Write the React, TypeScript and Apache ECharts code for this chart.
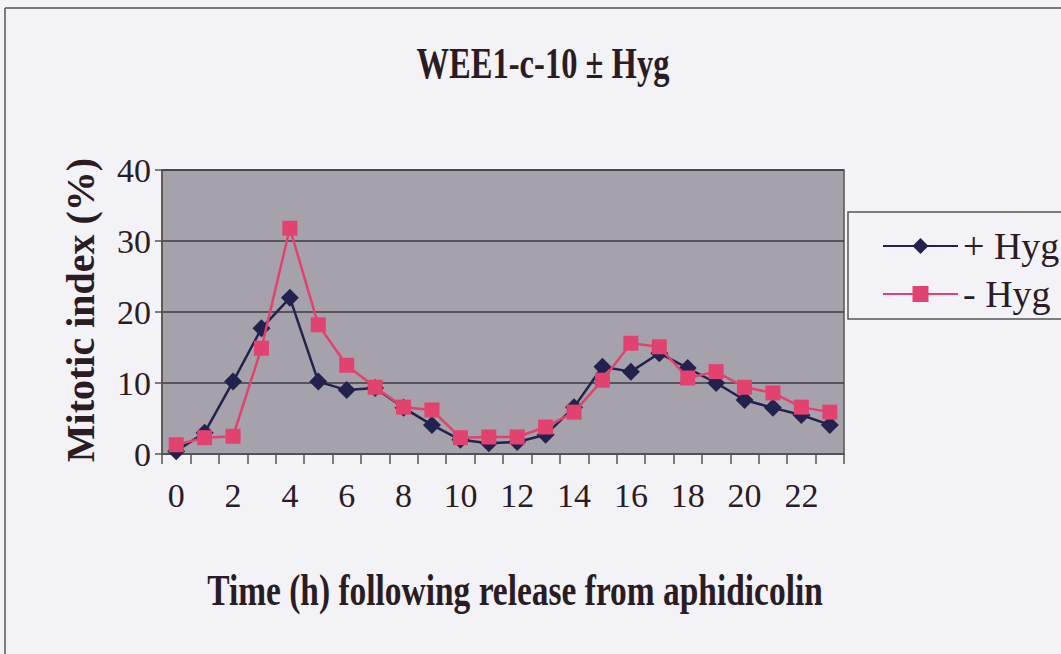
import React, { useEffect, useRef } from "react";
import * as echarts from "echarts";

// Time points (h) after release from aphidicolin
const hours: string[] = Array.from({ length: 24 }, (_, i) => String(i));

// Mitotic index (%) with hygromycin
const plusHyg: number[] = [
  0.4, 3.0, 10.2, 17.7, 22.0, 10.2, 9.0, 9.3, 6.5, 4.1, 2.0, 1.5,
  1.7, 2.7, 6.6, 12.3, 11.6, 14.2, 12.1, 10.0, 7.6, 6.5, 5.5, 4.1,
];

// Mitotic index (%) without hygromycin
const minusHyg: number[] = [
  1.3, 2.3, 2.5, 14.9, 31.8, 18.2, 12.5, 9.4, 6.6, 6.2, 2.3, 2.4,
  2.4, 3.8, 5.9, 10.4, 15.6, 15.1, 10.7, 11.6, 9.4, 8.6, 6.6, 5.9,
];

const seriesNames = ["+ Hyg", "- Hyg"];
const yTicks = { min: 0, max: 40, interval: 10 };

const SERIF = "'Liberation Serif', 'Times New Roman', serif";
const NAVY = "#23224e";
const PINK = "#e2426f";
const INK = "#2a1c22";

export default function App() {
  const ref = useRef<HTMLDivElement>(null);

  useEffect(() => {
    if (!ref.current) return;
    const chart = echarts.init(ref.current, null, { renderer: "svg" });
    chart.setOption({
      animation: false,
      backgroundColor: "#f3f2f7",
      grid: { left: 162, top: 170, width: 682, height: 284, show: true, backgroundColor: "#a6a2ab", borderColor: "#555", borderWidth: 1.5 },
      xAxis: {
        type: "category",
        data: hours,
        boundaryGap: true,
        axisLine: { lineStyle: { color: "#555", width: 1.5 } },
        axisTick: { show: true, interval: 0, length: 10, lineStyle: { color: "#555", width: 1.5 } },
        axisLabel: { interval: 1, margin: 24, fontSize: 34, fontFamily: SERIF, color: INK },
        splitLine: { show: false },
      },
      yAxis: {
        type: "value",
        min: yTicks.min,
        max: yTicks.max,
        interval: yTicks.interval,
        axisLine: { show: true, lineStyle: { color: "#555", width: 1.5 } },
        axisTick: { show: true, length: 7, lineStyle: { color: "#555", width: 1.5 } },
        axisLabel: { margin: 11, fontSize: 34, fontFamily: SERIF, color: INK },
        splitLine: { lineStyle: { color: "#3e3a44", width: 1.5 } },
      },
      legend: {
        orient: "vertical",
        left: 848,
        top: 212,
        data: seriesNames,
        itemWidth: 75,
        itemHeight: 20,
        itemGap: 10,
        padding: [15, 40, 6, 34],
        borderColor: "#555",
        borderWidth: 1.5,
        backgroundColor: "#f3f2f7",
        textStyle: { fontSize: 38, lineHeight: 36, fontFamily: SERIF, color: INK },
      },
      series: [
        {
          name: seriesNames[0],
          type: "line",
          data: plusHyg,
          symbol: "diamond",
          symbolSize: 18,
          color: NAVY,
          lineStyle: { color: NAVY, width: 2.5 },
          itemStyle: { color: NAVY },
          z: 2,
        },
        {
          name: seriesNames[1],
          type: "line",
          data: minusHyg,
          symbol: "rect",
          symbolSize: 15,
          color: PINK,
          lineStyle: { color: PINK, width: 2.5 },
          itemStyle: { color: PINK },
          z: 3,
        },
      ],
      graphic: [
        { type: "line", shape: { x1: 5, y1: 8, x2: 1061, y2: 8 }, style: { stroke: "#555", lineWidth: 1.5 } },
        { type: "line", shape: { x1: 5, y1: 8, x2: 5, y2: 654 }, style: { stroke: "#555", lineWidth: 1.5 } },
        {
          type: "text",
          x: 543,
          y: 63,
          scaleX: 0.74,
          style: {
            text: "WEE1-c-10 ± Hyg",
            fontSize: 44,
            fontWeight: "bold",
            fontFamily: SERIF,
            fill: INK,
            textAlign: "center",
            textVerticalAlign: "middle",
          },
        },
        {
          type: "text",
          x: 515,
          y: 590,
          scaleX: 0.76,
          style: {
            text: "Time (h) following release from aphidicolin",
            fontSize: 44,
            fontWeight: "bold",
            fontFamily: SERIF,
            fill: INK,
            textAlign: "center",
            textVerticalAlign: "middle",
          },
        },
        {
          type: "text",
          x: 80,
          y: 310,
          rotation: Math.PI / 2,
          style: {
            text: "Mitotic index (%)",
            fontSize: 40,
            fontWeight: "bold",
            fontFamily: SERIF,
            fill: INK,
            textAlign: "center",
            textVerticalAlign: "middle",
          },
        },
      ],
    });
    return () => chart.dispose();
  }, []);

  return (
    <div
      ref={ref}
      style={{ position: "fixed", left: 0, top: 0, width: 1061, height: 654 }}
    />
  );
}
